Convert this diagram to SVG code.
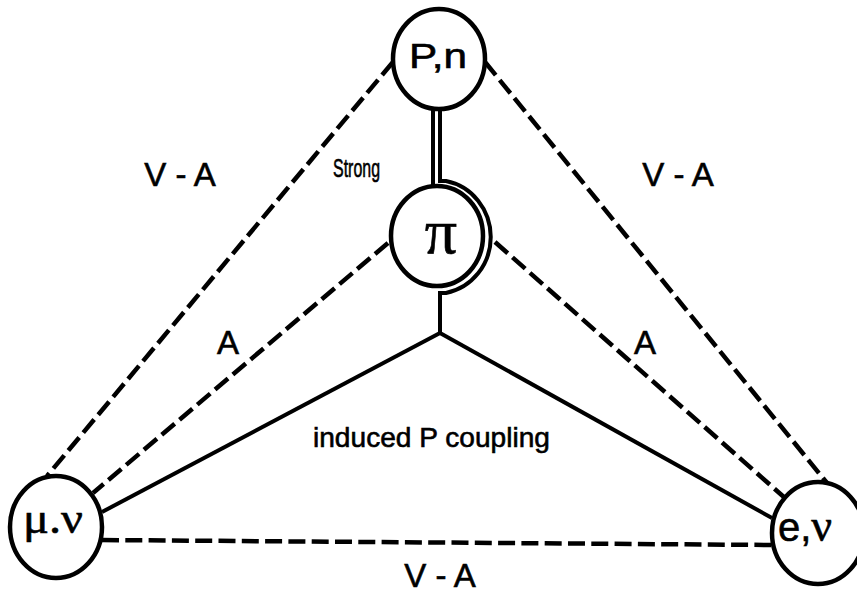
<svg xmlns="http://www.w3.org/2000/svg" width="857" height="595" viewBox="0 0 857 595">
<style>
.node{fill:#fff;stroke:#000;stroke-width:4.5}
.dash{fill:none;stroke:#000;stroke-width:4.5;stroke-dasharray:17 6.3;stroke-linecap:butt}
.solid{fill:none;stroke:#000;stroke-width:4}
.sans{font-family:"Liberation Sans",Arial,sans-serif;fill:#000;stroke:#000;stroke-width:0.6}
.serif{font-family:"Liberation Serif","Times New Roman",serif;fill:#000;stroke:#000;stroke-width:0.6}
.lbl{font-size:33px;text-anchor:middle}
</style>
<rect width="857" height="595" fill="#fff"/>
<g id="connectors">
<path class="dash" d="M393,62 L47,476"/>
<path class="dash" d="M485,62 L827,483"/>
<path class="dash" d="M388,243 L93,493"/>
<path class="dash" d="M495,242 L785,498"/>
<path class="dash" d="M102,540 L772,545"/>
<path class="solid" d="M440,333 L102,512"/>
<path class="solid" d="M440,333 L772,518"/>
<path class="solid" d="M433,108 V187"/>
<path class="solid" d="M440,108 V181 H446 A55 57 0 0 1 446 293 H440 V333"/>
</g>
<g id="node-pn">
<ellipse class="node" cx="439" cy="59" rx="46" ry="50"/>
<text class="sans" x="409" y="68" font-size="35" textLength="58" lengthAdjust="spacingAndGlyphs">P,n</text>
</g>
<g id="node-pi">
<ellipse class="node" cx="437" cy="236" rx="46" ry="50"/>
<text class="serif" x="441" y="253" font-size="64" text-anchor="middle">π</text>
</g>
<g id="node-mu">
<ellipse class="node" cx="56" cy="527" rx="46" ry="51"/>
<text class="serif" x="23" y="533" font-size="45" textLength="60" lengthAdjust="spacingAndGlyphs">μ.ν</text>
</g>
<g id="node-e">
<ellipse class="node" cx="818" cy="533" rx="46" ry="51"/>
<text x="778" y="541" font-size="40"><tspan class="sans">e,</tspan><tspan class="serif" font-size="46">ν</tspan></text>
</g>
<g id="labels">
<text class="sans lbl" x="180" y="186">V - A</text>
<text class="sans lbl" x="678" y="186">V - A</text>
<text class="sans lbl" x="440" y="587">V - A</text>
<text class="sans lbl" x="228" y="354">A</text>
<text class="sans lbl" x="645" y="354">A</text>
<text class="sans" x="333" y="177" font-size="26" textLength="47" lengthAdjust="spacingAndGlyphs" stroke-width="1.1">Strong</text>
<text class="sans" x="313" y="447" font-size="28" textLength="237" lengthAdjust="spacingAndGlyphs">induced P coupling</text>
</g>
</svg>
